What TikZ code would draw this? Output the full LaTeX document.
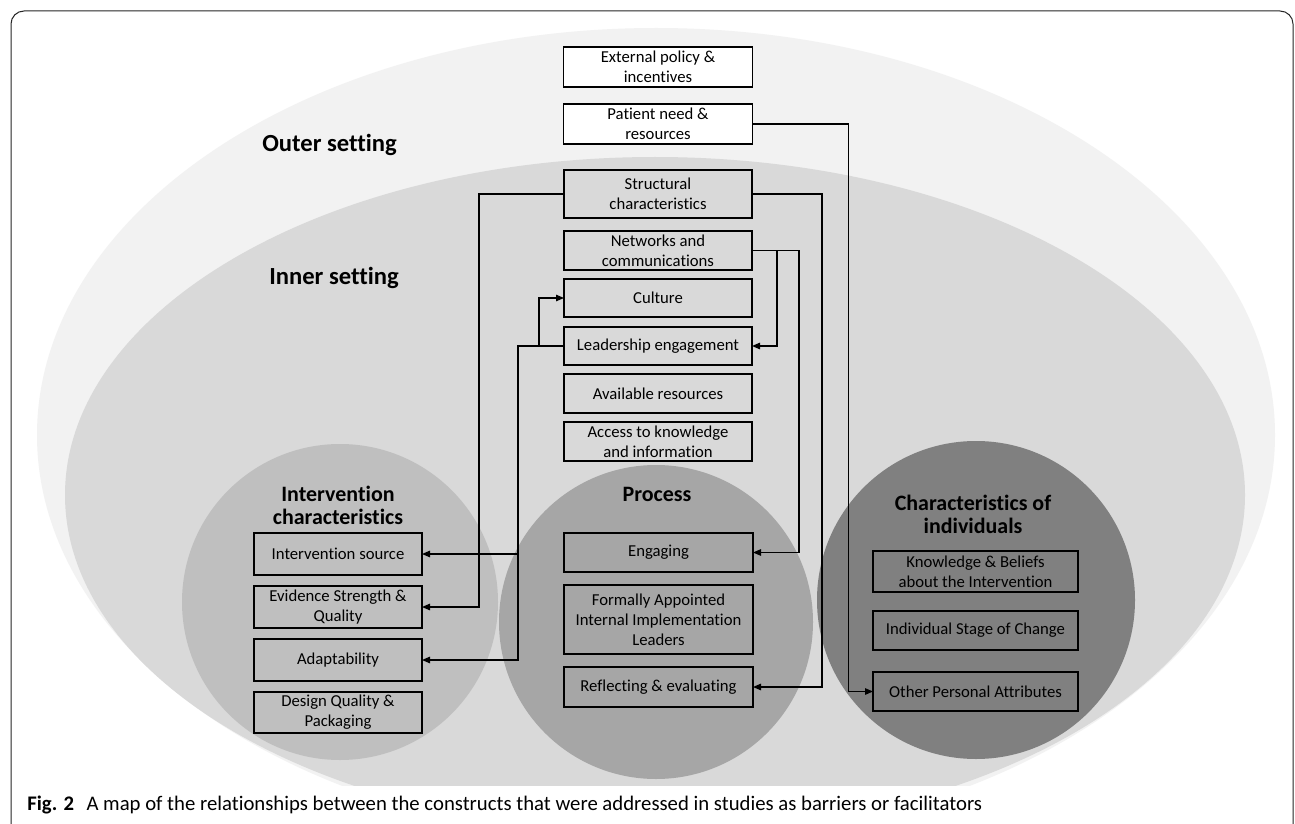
\documentclass[tikz,border=0pt]{standalone}
\usepackage{fontspec}
\setmainfont{Carlito}[Ligatures=NoCommon]
\usetikzlibrary{arrows.meta}

\begin{document}
\begin{tikzpicture}[x=0.2mm, y=-0.2mm,
	box/.style={draw=black, line width=0.25mm, inner sep=0pt, outer sep=0pt, align=center, font=\fontsize{9.5}{11.3}\selectfont},
	setlabel/.style={anchor=west, inner sep=0pt, font=\bfseries\fontsize{14}{15}\selectfont},
	circlelabel/.style={align=center, inner sep=0pt, font=\bfseries\fontsize{12.5}{13.2}\selectfont},
	link/.style={line width=0.25mm, -{Triangle[length=1.6mm, width=1.3mm]}}]
			%%%%% START %%%%%
			
			\useasboundingbox (0, 0) rectangle (1295, 824);
			\clip (0, 0) rectangle (1295, 824);
			\fill[white] (0, 0) rectangle (1295, 824);
			
			\begin{scope}
				\clip (0, 0) rectangle (1295, 785);
				\fill[black!5] (656, 435) ellipse [x radius=619, y radius=407];
				\fill[black!15] (655, 495) ellipse [x radius=590, y radius=338];
				\fill[black!25] (340, 602) circle [radius=158];
				\fill[black!35] (656, 622) circle [radius=157];
				\fill[black!50] (976, 600) circle [radius=159];
			\end{scope}
			
			\draw[line width=0.2mm, color=black!85, rounded corners=2.6mm] (11, 900) -- (11, 11) -- (1293, 11) -- (1293, 900);
			
			\node[setlabel] (outerlbl) at (262, 145) {Outer setting};
			\node[setlabel] (innerlbl) at (269, 278) {Inner setting};
			
			\node[circlelabel] (intlbl) at (338, 505) {Intervention\\characteristics};
			\node[circlelabel] (proclbl) at (657, 494) {Process};
			\node[circlelabel] (indlbl) at (973, 514) {Characteristics of\\individuals};
			
			% outer setting
			\node[box, fill=white, minimum width=37.8mm, minimum height=8mm] (policy) at (658, 67) {External policy \&\\incentives};
			\node[box, fill=white, minimum width=37.8mm, minimum height=8mm] (patient) at (658, 124) {Patient need \&\\resources};
			
			% inner setting
			\node[box, minimum width=37.6mm, minimum height=9.6mm] (structural) at (658, 194) {Structural\\characteristics};
			\node[box, minimum width=37.6mm, minimum height=7.8mm] (networks) at (658, 250.5) {Networks and\\communications};
			\node[box, minimum width=37.6mm, minimum height=7.6mm] (culture) at (658, 298) {Culture};
			\node[box, minimum width=37.6mm, minimum height=7.6mm] (leadership) at (658, 346) {Leadership engagement};
			\node[box, minimum width=37.6mm, minimum height=7.8mm] (resources) at (658, 393.5) {Available resources};
			\node[box, minimum width=37.6mm, minimum height=7.8mm] (access) at (658, 441.5) {Access to knowledge\\and information};
			
			% process
			\node[box, minimum width=37.8mm, minimum height=7.8mm] (engaging) at (658.5, 552.5) {Engaging};
			\node[box, minimum width=37.8mm, minimum height=13.8mm] (leaders) at (658.5, 619.5) {Formally Appointed\\Internal Implementation\\Leaders};
			\node[box, minimum width=37.8mm, minimum height=8mm] (reflecting) at (658.5, 687) {Reflecting \& evaluating};
			
			% intervention characteristics
			\node[box, minimum width=33.6mm, minimum height=8.4mm] (source) at (338, 554) {Intervention source};
			\node[box, minimum width=33.6mm, minimum height=8.4mm] (evidence) at (338, 607) {Evidence Strength \&\\Quality};
			\node[box, minimum width=33.6mm, minimum height=8.4mm] (adapt) at (338, 660) {Adaptability};
			\node[box, minimum width=33.6mm, minimum height=8.2mm] (design) at (338, 712.5) {Design Quality \&\\Packaging};
			
			% characteristics of individuals
			\node[box, minimum width=41mm, minimum height=8.2mm] (beliefs) at (975.5, 571.5) {Knowledge \& Beliefs\\about the Intervention};
			\node[box, minimum width=41mm, minimum height=7.8mm] (stage) at (975.5, 630.5) {Individual Stage of Change};
			\node[box, minimum width=41mm, minimum height=7.8mm] (attributes) at (975.5, 691.5) {Other Personal Attributes};
			
			% links
			\draw[link] (patient.east) -- ++(96, 0) |- (attributes.west);
			\draw[link] (structural.west) -- ++(-85, 0) |- (evidence.east);
			\draw[link] (structural.east) -- ++(70, 0) |- (reflecting.east);
			\draw[link] (networks.east) -- ++(25, 0) |- (leadership.east);
			\draw[link] (networks.east) -- ++(47, 0) |- (engaging.east);
			\draw[link] (leadership.west) -- ++(-25, 0) |- (culture.west);
			\draw[link] (leadership.west) -- ++(-46, 0) |- (source.east);
			\draw[link] (leadership.west) -- ++(-46, 0) |- (adapt.east);
			
			\node[anchor=west, inner sep=0pt, font=\fontsize{11.8}{14}\selectfont] (caption) at (27, 805) {\textbf{Fig. 2}\hspace{0.6em}A map of the relationships between the constructs that were addressed in studies as barriers or facilitators};
			
			%%%%% END %%%%%
		\end{tikzpicture}
\end{document}
